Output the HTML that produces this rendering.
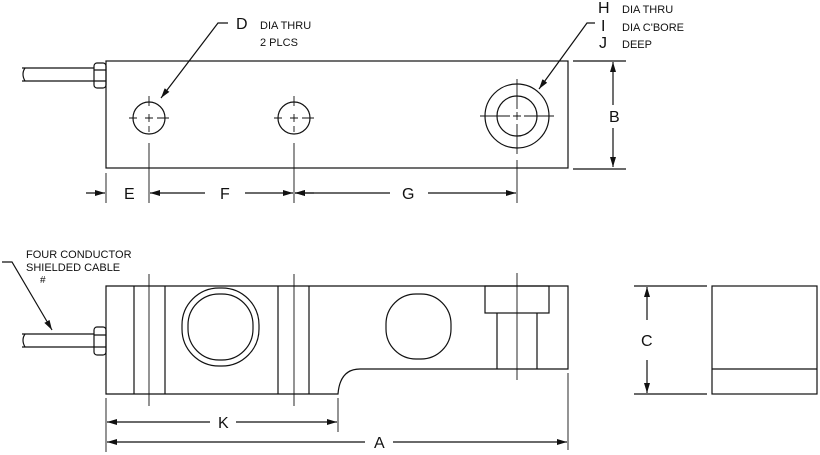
<!DOCTYPE html>
<html><head><meta charset="utf-8"><style>
html,body{margin:0;padding:0;background:#fff}
svg{display:block}
text{font-family:"Liberation Sans",Arial,sans-serif;fill:#111}
</style></head><body>
<svg width="820" height="455" viewBox="0 0 820 455" xmlns="http://www.w3.org/2000/svg">
<defs>
<marker id="a" viewBox="0 0 10 6" refX="10" refY="3" markerWidth="10" markerHeight="6" orient="auto-start-reverse" markerUnits="userSpaceOnUse"><path d="M0,0 L10,3 L0,6 z" fill="#111"/></marker>
</defs>
<g stroke="#111" stroke-width="1.2" fill="none">
<rect x="106" y="61" width="462" height="107"/>
<path d="M22,68 H94 M22,81 H94"/>
<path d="M25,68 q-4,6 0,13"/>
<rect x="94" y="63" width="12" height="25" rx="3"/>
<path d="M94,70 H106 M94,81 H106"/>
<circle cx="149" cy="118" r="16"/>
<circle cx="294" cy="118" r="16"/>
<circle cx="517" cy="116" r="32"/>
<circle cx="517" cy="116" r="20"/>
<g stroke-width="0.9">
<path d="M129,118 h8 M145,118 h8 M157,118 h12 M149,96 v10 M149,114 v8 M149,126 v6"/>
<path d="M274,118 h8 M290,118 h8 M302,118 h12 M294,96 v10 M294,114 v8 M294,126 v6"/>
<path d="M480,116 h30 M513,116 h8 M524,116 h30 M517,79 v30 M517,112 v8 M517,124 v30"/>
</g>
<path d="M228,23 H218 L161,98" marker-end="url(#a)"/>
<path d="M595,23 H587 L539,89" marker-end="url(#a)"/>
<path d="M573,61 H626 M573,169 H626"/>
<path d="M613,105 V62" marker-end="url(#a)"/>
<path d="M613,128 V167" marker-end="url(#a)"/>
<path d="M106,173 V203 M149,143 V203 M294,143 V203 M517,160 V203" stroke-width="0.9"/>
<path d="M86,193 H105" marker-end="url(#a)"/>
<path d="M205,193 H150" marker-end="url(#a)"/>
<path d="M245,193 H293" marker-end="url(#a)"/>
<path d="M314,193 H295" marker-end="url(#a)"/>
<path d="M390,193 H295" marker-end="url(#a)"/>
<path d="M428,193 H516" marker-end="url(#a)"/>
<path d="M106,286 H568 V369 H360 Q340,369 338,394 H106 Z"/>
<path d="M134,286 V394 M165,286 V394 M278,286 V394 M309,286 V394"/>
<path d="M149,274 V406 M294,274 V406" stroke-width="0.9"/>
<rect x="182" y="288" width="77" height="78" rx="37"/>
<rect x="188" y="294" width="65" height="66" rx="31"/>
<rect x="386" y="294" width="65" height="65" rx="30"/>
<rect x="485" y="286" width="64" height="27"/>
<path d="M497,313 V369 M537,313 V369"/>
<path d="M517,273 V380" stroke-width="0.9"/>
<path d="M22,334 H94 M22,347 H94"/>
<path d="M25,334 q-4,6 0,13"/>
<rect x="94" y="327" width="12" height="28" rx="3"/>
<path d="M94,335 H106 M94,347 H106"/>
<path d="M2,262 H12 L52,330" marker-end="url(#a)"/>
<path d="M106,398 V452 M338,398 V432 M568,373 V450" stroke-width="0.9"/>
<path d="M210,422 H107" marker-end="url(#a)"/>
<path d="M236,422 H337" marker-end="url(#a)"/>
<path d="M365,442 H107" marker-end="url(#a)"/>
<path d="M393,442 H567" marker-end="url(#a)"/>
<rect x="712" y="286" width="105" height="108"/>
<path d="M712,369 H817"/>
<path d="M634,286 H707 M634,394 H707"/>
<path d="M647,320 V287" marker-end="url(#a)"/>
<path d="M647,360 V393" marker-end="url(#a)"/>
</g>
<g>
<text x="236" y="29" font-size="16">D</text>
<text x="260" y="29" font-size="11">DIA THRU</text>
<text x="260" y="46" font-size="11">2 PLCS</text>
<text x="598" y="13" font-size="16">H</text>
<text x="622" y="13" font-size="11">DIA THRU</text>
<text x="601" y="31" font-size="16">I</text>
<text x="622" y="31" font-size="11">DIA C'BORE</text>
<text x="599" y="48" font-size="16">J</text>
<text x="622" y="48" font-size="11">DEEP</text>
<text x="609" y="122" font-size="16">B</text>
<text x="124" y="199" font-size="16">E</text>
<text x="220" y="199" font-size="16">F</text>
<text x="402" y="199" font-size="16">G</text>
<text x="26" y="258" font-size="11">FOUR CONDUCTOR</text>
<text x="26" y="271" font-size="11">SHIELDED CABLE</text>
<text x="40" y="283" font-size="10">#</text>
<text x="641" y="346" font-size="16">C</text>
<text x="218" y="428" font-size="16">K</text>
<text x="374" y="448" font-size="16">A</text>
</g>
</svg>
</body></html>
